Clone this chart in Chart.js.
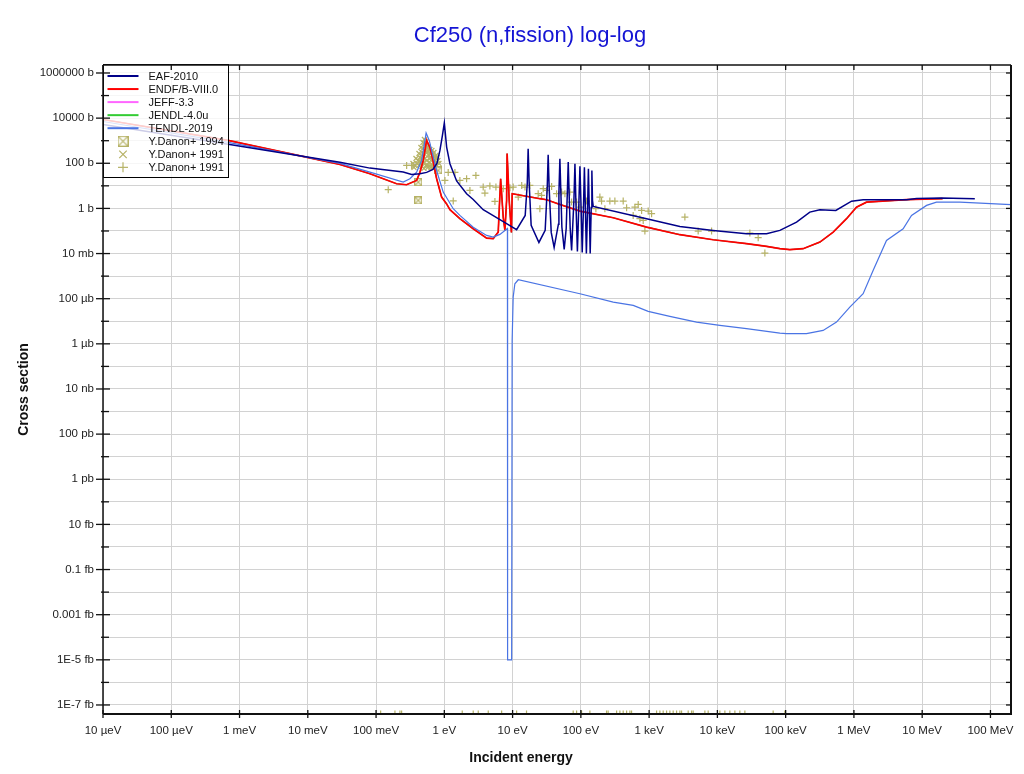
<!DOCTYPE html>
<html><head><meta charset="utf-8">
<script src="https://cdn.jsdelivr.net/npm/chart.js@4.4.1/dist/chart.umd.min.js"></script>
<style>html,body{margin:0;padding:0;background:#fff;}canvas{display:block;}</style>
</head><body>
<canvas id="c" width="1024" height="774"></canvas>
<script>
// ---------- tick labels ----------
const xTickLabels = ['10 µeV','100 µeV','1 meV','10 meV','100 meV','1 eV','10 eV','100 eV','1 keV','10 keV','100 keV','1 MeV','10 MeV','100 MeV'];
const xTickFirstPower = -5;
const yTickLabels = ['1E-7 fb','1E-5 fb','0.001 fb','0.1 fb','10 fb','1 pb','100 pb','10 nb','1 µb','100 µb','10 mb','1 b','100 b','10000 b','1000000 b'];
const yTickFirstPower = -22;
const Y_MIN = Math.pow(10, -22.4), Y_MAX = Math.pow(10, 6.354);
const X_MIN = 1e-5, X_MAX = 2e8;

// ---------- EAF-2010 ----------
const eafE = [1e-5, 6.8e-4, 0.0295, 0.0813, 0.25, 0.332, 0.44, 0.551, 0.681, 0.779, 0.862, 0.938, 1.0, 1.081, 1.208, 1.514, 2.12, 2.65, 3.71, 4.65, 8.17, 11.45,
  15.3, 16.4, 16.9, 17.5, 18.7, 24.3,
  30.0, 32.1, 33.2, 34.4, 36.8, 40.6,
  46.9, 47.7, 49.3, 51.0, 52.7, 57.0,
  61.0, 63.1, 65.3, 67.5, 69.8, 73.2,
  79.1, 81.9, 84.5, 89.0,
  93.6, 96.9, 100.3, 104.7,
  109.4, 112.7, 116.2, 120.5,
  125.6, 129, 132.5, 137,
  141.8, 145, 148, 151.7,
  918, 2820, 8670, 26700, 52500, 82300, 144500, 226000, 317000, 543000, 923000, 1.365e6, 5.9e6, 8.27e6, 1.92e7, 5.9e7];
const eafS = [5250, 690, 112, 61, 40.6, 32.1, 34.5, 39.4, 53.5, 98.6, 371, 1715, 6140, 520, 95.6, 16.5, 4.48, 2.5, 0.876, 0.582, 0.21, 0.114,
  0.49, 12.8, 442, 12.8, 0.177, 0.031,
  0.106, 6.95, 240, 6.95, 0.0865, 0.0187,
  0.2, 4.6, 159, 4.6, 0.15, 0.0152,
  0.13, 3.4, 113, 3.4, 0.13, 0.0138,
  2.26, 96, 2.26, 0.0124,
  1.84, 73, 1.84, 0.0112,
  1.36, 66, 1.36, 0.0101,
  1.36, 57, 1.36, 0.0101,
  1.1, 48, 2.26, 1.23,
  0.35, 0.159, 0.106, 0.0757, 0.0757, 0.106, 0.247, 0.686, 0.876, 0.815, 2.1, 2.43, 2.43, 2.77, 2.86, 2.69];

// ---------- ENDF/B-VIII.0 ----------
const endfE = [1e-5, 6.8e-4, 0.0295, 0.0813, 0.2, 0.28, 0.393, 0.439, 0.491, 0.52, 0.55, 0.615, 0.681, 0.77, 0.913, 1.08, 1.208, 1.69, 2.65, 4.17, 5.2,
  6.16, 6.68, 7.29, 7.72, 8.17, 8.31, 8.92, 9.61, 9.87,
  25.1, 31.5, 49.3, 96.9, 298, 918, 2820, 8670, 26700, 52500, 82300, 115000, 180000, 317000, 497000, 780000, 1.09e6, 1.53e6, 5.9e6, 1.99e7];
const endfS = [8700, 1030, 89, 34.5, 12.4, 11.2, 17.4, 39.4, 134, 371, 1030, 504, 134, 21.3, 3.17, 1.58, 0.876, 0.35, 0.126, 0.048, 0.0455,
  0.089, 20.7, 0.41, 0.106, 2.26, 273, 2.26, 0.0865, 4.48,
  2.69, 2.43, 1.5, 0.76, 0.387, 0.148, 0.0684, 0.041, 0.0273, 0.0207, 0.0164, 0.0148, 0.0164, 0.0321, 0.089, 0.35, 1.14, 1.9, 2.43, 2.69];

// ---------- JEFF-3.3 / JENDL-4.0u (lie under ENDF/B-VIII.0) ----------
const jeffE = endfE, jeffS = endfS;
const jendlE = endfE, jendlS = endfS;

// ---------- TENDL-2019 ----------
const tendlE = [1e-5, 6.8e-4, 0.0295, 0.0813, 0.25, 0.313, 0.393, 0.465, 0.52, 0.541, 0.601, 0.77, 0.963, 1.35, 1.69, 2.65, 4.17, 5.2, 6.52, 8.4,
  8.45, 9.68, 9.85, 10.2, 10.8, 12.1, 96.9, 298, 585, 969, 2010, 4950, 10870, 26700, 82300, 103000, 202000, 354000, 556000, 871000,
  1.365e6, 1.91e6, 3.0e6, 5.26e6, 6.98e6, 1.16e7, 1.62e7, 3.56e7, 2.06e8];
const tendlS = [7100, 840, 98.6, 40.6, 14.6, 20.7, 40.6, 134, 1030, 2210, 1030, 48, 5.28, 0.97, 0.49, 0.148, 0.0636, 0.0535, 0.0705, 0.13,
  1e-20, 1e-20, 1.4e-6, 1.17e-4, 4.6e-4, 6.9e-4, 1.66e-4, 7.06e-5, 5.04e-5, 2.73e-5, 1.64e-5, 9.2e-6, 6.55e-6, 4.68e-6, 2.99e-6, 2.81e-6, 2.81e-6, 3.93e-6, 9.2e-6, 4.24e-5,
  1.66e-4, 1.79e-3, 0.0382, 0.126, 0.49, 1.36, 1.9, 1.9, 1.46];

// ---------- Y.Danon+ 1994 (boxed x) ----------
const danon94E = [0.415, 0.415, 0.814];
const danon94S = [14.6, 2.26, 48];

// ---------- Y.Danon+ 1991 (x) ----------
const danon91xE = [0.347, 0.384, 0.425, 0.454, 0.486, 0.511, 0.538, 0.575, 0.615, 0.658, 0.704, 0.753, 0.806, 0.779, 0.371, 0.411, 0.439, 0.47, 0.486, 0.52,
  0.556, 0.595, 0.636, 0.681, 0.728, 0.454, 0.52, 0.595, 0.658, 0.556, 0.503, 0.615, 0.704, 0.425, 0.538, 0.47, 0.575, 0.503, 0.636,
  0.359, 0.397, 0.439, 0.486, 0.52, 0.538, 0.556, 0.575, 0.595, 0.636, 0.681, 0.728, 0.779, 0.834, 0.47, 0.575, 0.681, 0.753, 0.503, 0.615];
const danon91xS = [98.6, 164, 273, 504, 840, 1140, 930, 558, 411, 371, 303, 223, 134, 80.4, 80.4, 134, 182, 303, 455, 558,
  303, 223, 182, 164, 134, 109, 164, 109, 89, 134, 273, 273, 98.6, 80.4, 80.4, 164, 65.6, 59.2, 65.6,
  65.6, 98.6, 121, 201, 371, 618, 455, 335, 411, 303, 247, 182, 182, 98.6, 72.6, 80.4, 65.6, 89, 109, 164];

// ---------- Y.Danon+ 1991 (+) ----------
const danon91pE = [0.1508, 0.2805, 0.332, 1.02, 1.14, 1.43, 1.69, 2.12, 2.37, 2.90, 1.35, 3.71, 3.93, 4.65, 5.70, 5.51, 7.29, 9.14, 10.2, 12.1,
  13.6, 15.2, 17.9, 23.7, 26.6, 28.1, 31.5, 37.3, 44.1, 52.2, 58.4, 69.1, 73.2, 86.6, 25.1, 96.8, 121, 190, 201, 266,
  315, 417, 166, 225, 468, 619, 692, 776, 584, 969, 1087, 732, 819, 867, 3340, 5230, 8220, 29900, 39600, 49600];
const danon91pS = [6.74, 80.4, 80.4, 17.4, 39.4, 39.4, 17.4, 20.7, 6.27, 29, 2.15, 8.78, 4.76, 9.93, 8.78, 2.04, 7.46, 8.26, 8.78, 3.17,
  10.4, 8.78, 10.4, 4.48, 3.77, 7.46, 6.27, 9.43, 4.48, 5.28, 4.48, 5.28, 1.90, 1.90, 0.97, 1.14, 2.11, 3.17, 2.11, 2.11,
  2.11, 2.11, 0.97, 0.97, 1.07, 1.14, 1.50, 0.815, 0.49, 0.759, 0.582, 0.35, 0.294, 0.0987, 0.412, 0.0987, 0.0987, 0.0804, 0.0503, 0.0105];
// points with zero cross section (shown on the bottom axis)
const danon91pZeroE = [0.1167, 0.189, 0.2237, 0.2368, 1.83, 2.65, 3.14, 4.40, 6.91, 11.45, 16.0, 77.2, 86.6, 102.5, 135.6, 238, 251, 334, 373, 417,
  468, 523, 553, 1286, 1438, 1607, 1802, 2014, 2251, 2525, 2822, 2988, 3734, 4187, 4420, 6557, 7328, 10870, 12870, 15230,
  18030, 21340, 25270, 65600, 97300];

// ---------- build ----------
const pts = (E, S) => E.map((e, i) => ({x: e, y: S[i]}));
// zero values cannot sit on a log axis: clamp them to the axis floor
const zeroPts = E => E.map(e => ({x: e, y: Y_MIN}));
const olive = 'rgb(182,178,102)';
const FONT = '"Liberation Sans", Arial, Helvetica, sans-serif';
Chart.defaults.font.family = FONT;

function boxedX(size, lw) {
  const c = document.createElement('canvas');
  c.width = size; c.height = size;
  const g = c.getContext('2d');
  g.strokeStyle = olive; g.lineWidth = lw;
  g.strokeRect(lw/2, lw/2, size - lw, size - lw);
  g.beginPath();
  g.moveTo(lw, lw); g.lineTo(size - lw, size - lw);
  g.moveTo(size - lw, lw); g.lineTo(lw, size - lw);
  g.stroke();
  return c;
}
const boxSmall = boxedX(8, 1.2);
const boxBig = boxedX(11, 1.2);

const lineDS = (label, E, S, color, width, order) => ({
  label, data: pts(E, S), showLine: true, borderColor: color, backgroundColor: color,
  borderWidth: width, pointRadius: 0, tension: 0, fill: false, order
});

const datasets = [
  lineDS('EAF-2010', eafE, eafS, '#000088', 1.5, 1),
  lineDS('ENDF/B-VIII.0', endfE, endfS, '#ff0000', 1.7, 3),
  lineDS('JEFF-3.3', jeffE, jeffS, '#ff66ff', 1.2, 5),
  lineDS('JENDL-4.0u', jendlE, jendlS, '#33cc33', 1.2, 4),
  lineDS('TENDL-2019', tendlE, tendlS, '#4a74e4', 1.2, 2),
  {label: 'Y.Danon+ 1994', data: pts(danon94E, danon94S), pointStyle: boxSmall, pointRadius: 4, order: 8},
  {label: 'Y.Danon+ 1991', data: pts(danon91xE, danon91xS), pointStyle: 'crossRot', pointRadius: 3.5, borderColor: olive, borderWidth: 1.3, order: 7},
  {label: 'Y.Danon+ 1991', data: pts(danon91pE, danon91pS).concat(zeroPts(danon91pZeroE)), pointStyle: 'cross', pointRadius: 3.5, borderColor: olive, borderWidth: 1.2, order: 6}
];

const legendItems = [
  {label: 'EAF-2010', type: 'line', color: '#000088'},
  {label: 'ENDF/B-VIII.0', type: 'line', color: '#ff0000'},
  {label: 'JEFF-3.3', type: 'line', color: '#ff66ff'},
  {label: 'JENDL-4.0u', type: 'line', color: '#33cc33'},
  {label: 'TENDL-2019', type: 'line', color: '#4a74e4'},
  {label: 'Y.Danon+ 1994', type: 'box'},
  {label: 'Y.Danon+ 1991', type: 'x'},
  {label: 'Y.Danon+ 1991', type: 'plus'}
];

const decor = {
  id: 'decor',
  afterDraw(chart) {
    const {ctx, chartArea: a, scales: {x, y}} = chart;
    const seg = (x1, y1, x2, y2) => { ctx.beginPath(); ctx.moveTo(x1, y1); ctx.lineTo(x2, y2); ctx.stroke(); };
    ctx.save();
    // legend
    const L = a.left + 0.5, T = a.top - 0.5, W = 125, H = 113;
    ctx.fillStyle = 'rgba(255,255,255,0.8)';
    ctx.fillRect(L, T, W, H);
    ctx.strokeStyle = '#000'; ctx.lineWidth = 1;
    ctx.strokeRect(L, T, W, H);
    ctx.font = '11px ' + FONT; ctx.textBaseline = 'middle'; ctx.textAlign = 'left';
    legendItems.forEach((it, i) => {
      const cy = T + 11.5 + i * 13.05;
      if (it.type === 'line') {
        ctx.strokeStyle = it.color; ctx.lineWidth = 2;
        seg(L + 4, cy, L + 35, cy);
      } else if (it.type === 'box') {
        ctx.drawImage(boxBig, L + 19.5 - 5.5, cy - 5.5);
      } else {
        ctx.strokeStyle = olive; ctx.lineWidth = 1.2;
        const r = 5;
        if (it.type === 'x') { seg(L + 19.5 - r*0.75, cy - r*0.75, L + 19.5 + r*0.75, cy + r*0.75); seg(L + 19.5 - r*0.75, cy + r*0.75, L + 19.5 + r*0.75, cy - r*0.75); }
        else { seg(L + 19.5 - r, cy, L + 19.5 + r, cy); seg(L + 19.5, cy - r, L + 19.5, cy + r); }
      }
      ctx.fillStyle = '#111';
      ctx.fillText(it.label, L + 45, cy + 0.5);
    });
    // frame
    ctx.strokeStyle = '#111';
    ctx.lineWidth = 1.5;
    seg(a.left, a.top, a.right, a.top);
    seg(a.left, a.top, a.left, a.bottom);
    ctx.lineWidth = 2;
    seg(a.left, a.bottom, a.right + 1, a.bottom);
    seg(a.right, a.top, a.right, a.bottom);
    // ticks
    ctx.lineWidth = 1.3;
    x.ticks.forEach(t => {
      const p = x.getPixelForValue(t.value);
      seg(p, a.bottom - 4, p, a.bottom + 4);
      seg(p, a.top, p, a.top + 5);
    });
    y.ticks.forEach(t => {
      const p = y.getPixelForValue(t.value);
      const k = Math.round(Math.log10(t.value));
      if (k % 2 === 0) seg(a.left - 7, p, a.left + 7, p); else seg(a.left - 2, p, a.left + 6, p);
      seg(a.right - 5, p, a.right, p);
    });
    // titles
    ctx.fillStyle = '#1414d4';
    ctx.font = '22px ' + FONT; ctx.textAlign = 'center'; ctx.textBaseline = 'middle';
    ctx.fillText('Cf250 (n,fission) log-log', 530, 36);
    ctx.fillStyle = '#111';
    ctx.font = 'bold 14px ' + FONT;
    ctx.fillText('Incident energy', 521, 758);
    ctx.translate(24, (a.top + a.bottom) / 2);
    ctx.rotate(-Math.PI / 2);
    ctx.fillText('Cross section', 0, 0);
    ctx.restore();
  }
};

const decades = (lo, hi) => { const r = []; for (let k = lo; k <= hi; k++) r.push({value: Math.pow(10, k)}); return r; };

new Chart(document.getElementById('c'), {
  type: 'scatter',
  data: {datasets},
  options: {
    responsive: false, animation: false, devicePixelRatio: 1,
    layout: {padding: {top: 65, right: 13, left: 0, bottom: 0}},
    plugins: {legend: {display: false}, title: {display: false}, tooltip: {enabled: false}},
    scales: {
      x: {
        type: 'logarithmic', position: 'bottom', min: X_MIN, max: X_MAX,
        afterBuildTicks: s => { s.ticks = decades(xTickFirstPower, xTickFirstPower + xTickLabels.length - 1); },
        afterFit: s => { s.height = 60; },
        ticks: {
          autoSkip: false, maxRotation: 0, minRotation: 0, padding: 10, color: '#222', font: {size: 11.5},
          callback: v => xTickLabels[Math.round(Math.log10(v)) - xTickFirstPower]
        },
        grid: {color: '#d2d2d2', lineWidth: 1, drawTicks: false},
        border: {display: false}
      },
      y: {
        type: 'logarithmic', position: 'left', min: Y_MIN, max: Y_MAX,
        afterBuildTicks: s => { s.ticks = decades(yTickFirstPower, yTickFirstPower + 2 * (yTickLabels.length - 1)); },
        afterFit: s => { s.width = 103; },
        ticks: {
          autoSkip: false, padding: 9, color: '#222', font: {size: 11.5},
          callback: v => { const k = Math.round(Math.log10(v)); return (k % 2 === 0) ? yTickLabels[(k - yTickFirstPower) / 2] : ''; }
        },
        grid: {color: '#d2d2d2', lineWidth: 1, drawTicks: false},
        border: {display: false}
      }
    }
  },
  plugins: [decor]
});
</script>
</body></html>
